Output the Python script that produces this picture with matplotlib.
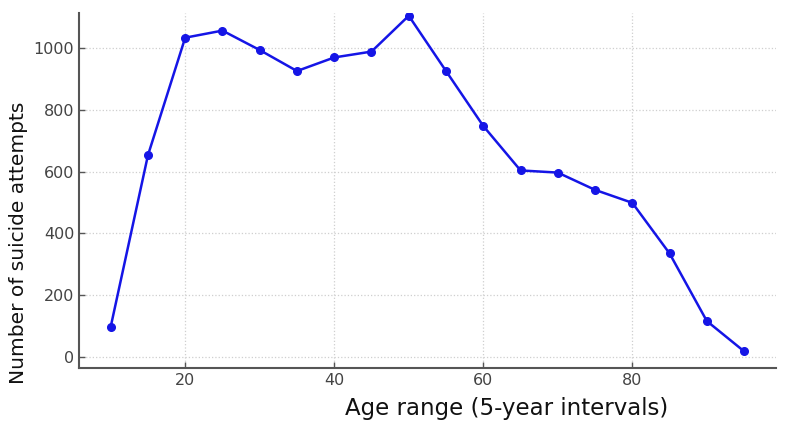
import matplotlib
matplotlib.use("Agg")
import matplotlib.pyplot as plt

ages = [10, 15, 20, 25, 30, 35, 40, 45, 50, 55, 60, 65, 70, 75, 80, 85, 90, 95]
attempts = [97, 653, 1034, 1057, 994, 926, 970, 989, 1105, 926, 748, 604, 597, 541, 499, 335, 116, 18]
x_ticks = [20, 40, 60, 80]
y_ticks = [0, 200, 400, 600, 800, 1000]

plt.rcParams['font.family'] = ['DejaVu Sans']
fig = plt.figure(figsize=(7.9, 4.29), dpi=100)
ax = fig.add_axes([0.1, 0.1422, 0.882, 0.8275])

ax.plot(ages, attempts, color='#1515e6', linewidth=1.8, marker='o', markersize=5.5,
        clip_on=True, zorder=3)

ax.set_xlim(5.75, 99.25)
ax.set_ylim(-36, 1114)
ax.set_xticks(x_ticks)
ax.set_yticks(y_ticks)

ax.grid(True, linestyle=':', color='#cfcfcf', linewidth=0.9)
ax.set_axisbelow(True)

for s in ['top', 'right']:
    ax.spines[s].set_visible(False)
for s in ['left', 'bottom']:
    ax.spines[s].set_color('#555555')
    ax.spines[s].set_linewidth(1.5)

ax.tick_params(axis='both', direction='in', length=4, width=1, color='#555555',
               labelcolor='#444444', labelsize=11.5, pad=3.5)

ax.set_xlabel('Age range (5-year intervals)', fontsize=16.5, color='#111111')
ax.set_ylabel('Number of suicide attempts', fontsize=14.5, color='#111111')
ax.xaxis.set_label_coords(0.614, -0.082)
ax.yaxis.set_label_coords(-0.073, 0.352)

fig.savefig('out.png', dpi=100)
